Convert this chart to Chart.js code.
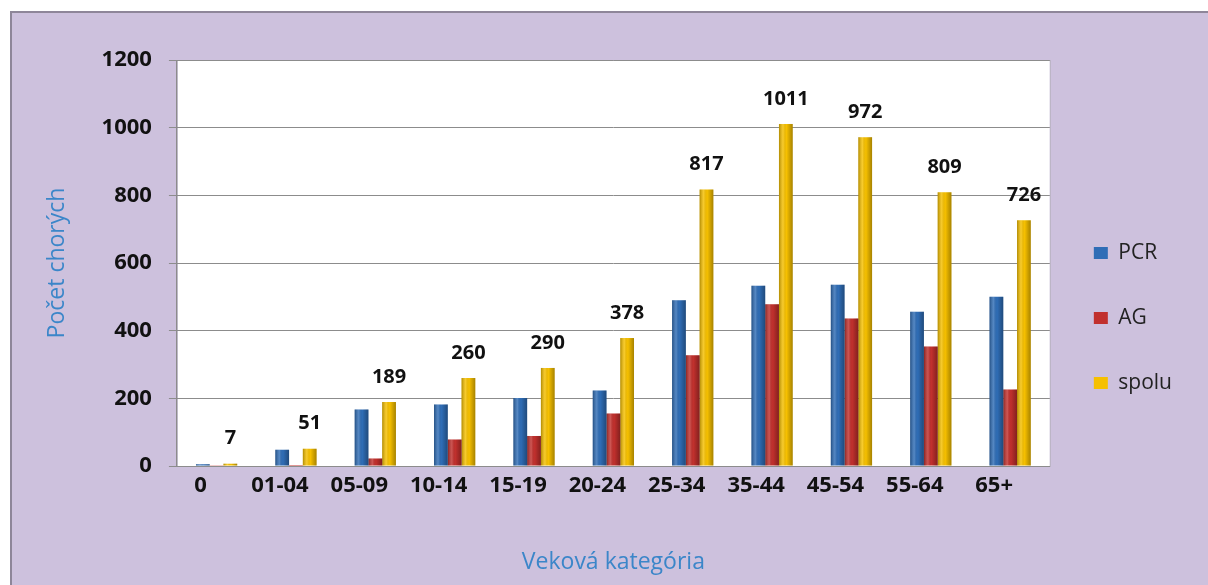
<!DOCTYPE html>
<html>
<head>
<meta charset="utf-8">
<script src="https://cdn.jsdelivr.net/npm/chart.js@4"></script>
<style>
html, body { margin: 0; padding: 0; background: #fff; }
#wrap { width: 1208px; height: 585px; }
</style>
</head>
<body>
<div id="wrap"><canvas id="graf"></canvas></div>
<script>
// vekove kategorie a pocty chorych
const kategorie = ['0', '01-04', '05-09', '10-14', '15-19', '20-24', '25-34', '35-44', '45-54', '55-64', '65+'];
const pcr   = [5, 48, 167, 182, 201, 223, 490, 533, 536, 456, 500];
const ag    = [2, 3, 22, 78, 89, 155, 327, 478, 436, 353, 226];
const spolu = [7, 51, 189, 260, 290, 378, 817, 1011, 972, 809, 726];
const yTicks = [0, 200, 400, 600, 800, 1000, 1200];

const pismo = "'Open Sans', sans-serif";
const modra = '#3b86c9';

// pozadie panelu + biela plocha grafu
const pozadie = {
    id: 'pozadie',
    beforeDraw(chart) {
        const c = chart.ctx;
        const a = chart.chartArea;
        c.save();
        c.fillStyle = '#ffffff';
        c.fillRect(0, 0, chart.width, chart.height);
        c.fillStyle = '#cdc1dd';
        c.fillRect(10, 11, chart.width - 10, chart.height - 11);
        c.strokeStyle = '#8e8699';
        c.lineWidth = 2;
        c.beginPath();
        c.moveTo(11, chart.height);
        c.lineTo(11, 12);
        c.lineTo(chart.width, 12);
        c.stroke();
        c.fillStyle = '#ffffff';
        c.fillRect(a.left, a.top, a.right - a.left, a.bottom - a.top);
        c.strokeStyle = '#b9b3c2';
        c.lineWidth = 1;
        c.strokeRect(a.left + 0.5, a.top + 0.5, a.right - a.left, a.bottom - a.top);
        c.restore();
    }
};

// tienovanie stlpcov (valcovy vzhlad) a popisky nad stlpcami spolu
const stlpce = {
    id: 'stlpce',
    afterDatasetsDraw(chart) {
        const c = chart.ctx;
        c.save();
        chart.data.datasets.forEach((ds, di) => {
            chart.getDatasetMeta(di).data.forEach(el => {
                const p = el.getProps(['x', 'y', 'base', 'width'], true);
                const x0 = p.x - p.width / 2;
                const h = p.base - p.y;
                if (h < 1) return;
                const g = c.createLinearGradient(x0, 0, x0 + p.width, 0);
                g.addColorStop(0, 'rgba(0,0,0,0.28)');
                g.addColorStop(0.3, 'rgba(255,255,255,0.18)');
                g.addColorStop(0.55, 'rgba(0,0,0,0)');
                g.addColorStop(1, 'rgba(0,0,0,0.32)');
                c.fillStyle = g;
                c.fillRect(x0, p.y, p.width, h);
            });
        });
        const meta = chart.getDatasetMeta(2);
        c.font = 'bold 20px ' + pismo;
        c.fillStyle = '#111111';
        c.textAlign = 'center';
        c.textBaseline = 'middle';
        meta.data.forEach((el, i) => {
            c.fillText(String(spolu[i]), el.x, el.y - 25);
        });
        c.restore();
    }
};

new Chart(document.getElementById('graf'), {
    type: 'bar',
    data: {
        labels: kategorie,
        datasets: [
            { label: 'PCR', data: pcr, backgroundColor: '#2f6db6' },
            { label: 'AG', data: ag, backgroundColor: '#c1302d' },
            { label: 'spolu', data: spolu, backgroundColor: '#f6c000' }
        ]
    },
    options: {
        responsive: true,
        maintainAspectRatio: false,
        animation: false,
        devicePixelRatio: 1,
        categoryPercentage: 0.52,
        barPercentage: 1.0,
        layout: { padding: { left: 44, top: 60, right: 26, bottom: 9 } },
        plugins: {
            tooltip: { enabled: false },
            legend: {
                position: 'right',
                maxWidth: 150,
                labels: {
                    boxWidth: 14,
                    boxHeight: 12,
                    padding: 44,
                    color: '#222222',
                    font: { family: pismo, size: 21 }
                }
            }
        },
        scales: {
            x: {
                grid: { display: false, drawTicks: false },
                border: { color: '#8c8c8c' },
                ticks: {
                    color: '#111111',
                    padding: 7,
                    labelOffset: -16,
                    maxRotation: 0,
                    autoSkip: false,
                    font: { family: pismo, size: 22, weight: 'bold' }
                },
                title: {
                    display: true,
                    text: 'Veková kategória',
                    color: modra,
                    font: { family: pismo, size: 23 },
                    padding: { top: 42, bottom: 0 }
                }
            },
            y: {
                min: 0,
                max: 1200,
                afterBuildTicks(scale) {
                    scale.ticks = yTicks.map(v => ({ value: v }));
                },
                grid: { color: '#8c8c8c', tickLength: 8, drawTicks: true },
                border: { color: '#8c8c8c' },
                ticks: {
                    color: '#111111',
                    padding: 17,
                    callback: v => String(v),
                    font: { family: pismo, size: 22, weight: 'bold' }
                },
                title: {
                    display: true,
                    text: 'Počet chorých',
                    color: modra,
                    font: { family: pismo, size: 23 },
                    padding: { top: 0, bottom: 13 }
                }
            }
        }
    },
    plugins: [pozadie, stlpce]
});
</script>
</body>
</html>
